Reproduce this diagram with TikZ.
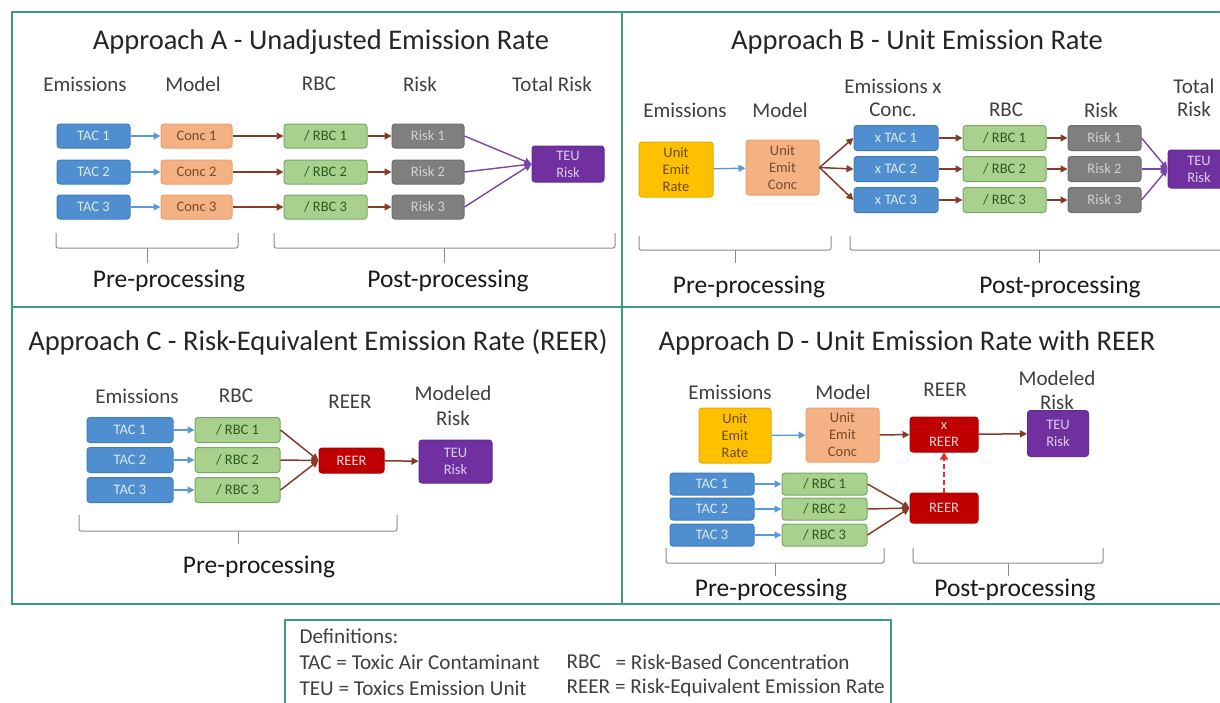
\documentclass[tikz,border=0pt]{standalone}
\usepackage{fontspec}
\setmainfont{Carlito}
\usetikzlibrary{arrows.meta}
\definecolor{frameteal}{HTML}{3E9A88}
\definecolor{titlegray}{HTML}{262626}
\definecolor{labgray}{HTML}{1A1A1A}
\definecolor{tacfill}{HTML}{4F8FD0}
\definecolor{tacdraw}{HTML}{3E7CBF}
\definecolor{tactext}{HTML}{DCE8F5}
\definecolor{concfill}{HTML}{F4B183}
\definecolor{concdraw}{HTML}{E9A06E}
\definecolor{conctext}{HTML}{7A4A2A}
\definecolor{rbcfill}{HTML}{A9D18E}
\definecolor{rbcdraw}{HTML}{78A860}
\definecolor{rbctext}{HTML}{2E5A1C}
\definecolor{riskfill}{HTML}{7F7F7F}
\definecolor{riskdraw}{HTML}{6E6E6E}
\definecolor{risktext}{HTML}{D0D0D0}
\definecolor{teufill}{HTML}{7030A0}
\definecolor{teudraw}{HTML}{642A92}
\definecolor{teutext}{HTML}{DCCBEE}
\definecolor{uerfill}{HTML}{FFC000}
\definecolor{uerdraw}{HTML}{E6AC00}
\definecolor{uertext}{HTML}{6B4A00}
\definecolor{reerfill}{HTML}{C00000}
\definecolor{reerdraw}{HTML}{A80000}
\definecolor{reertext}{HTML}{F6D6D6}
\definecolor{arrblue}{HTML}{5B9BD5}
\definecolor{arrbrown}{HTML}{843C29}
\definecolor{arrpurple}{HTML}{7A44A8}
\definecolor{headgray}{HTML}{404040}
\definecolor{bracegray}{HTML}{8C8C8C}
\definecolor{dashred}{HTML}{E03030}
\newcommand\myTitle{\fontsize{28.5}{33}\selectfont}
\newcommand\myHead{\fontsize{21}{25}\selectfont}
\newcommand\myBox{\fontsize{14.5}{17}\selectfont}
\newcommand\myLab{\fontsize{25.5}{30}\selectfont}
\newcommand\myDef{\fontsize{21.2}{25}\selectfont}
\tikzset{
  ttl/.style={font=\myTitle, text=titlegray},
  hd/.style={font=\myHead, text=headgray, align=center},
  lab/.style={font=\myLab, text=labgray},
  bx/.style={rounded corners=3pt, line width=1pt, inner sep=0pt, align=center, font=\myBox},
  tac/.style={bx, fill=tacfill, draw=tacdraw, text=tactext},
  conc/.style={bx, fill=concfill, draw=concdraw, text=conctext},
  rbc/.style={bx, fill=rbcfill, draw=rbcdraw, text=rbctext},
  risk/.style={bx, fill=riskfill, draw=riskdraw, text=risktext},
  teu/.style={bx, fill=teufill, draw=teudraw, text=teutext},
  uer/.style={bx, fill=uerfill, draw=uerdraw, text=uertext},
  reer/.style={bx, fill=reerfill, draw=reerdraw, text=reertext},
  ab/.style={draw=arrblue, line width=1.4pt, -{Triangle[length=7pt,width=7pt]}},
  abr/.style={draw=arrbrown, line width=1.5pt, -{Triangle[length=7pt,width=7pt]}},
  apu/.style={draw=arrpurple, line width=1.4pt, -{Triangle[length=7pt,width=7pt]}},
  adash/.style={draw=dashred, line width=1.6pt, dash pattern=on 5pt off 3pt, -{Triangle[length=7pt,width=8pt]}},
  brc/.style={draw=bracegray, line width=1pt, rounded corners=2pt},
  frm/.style={draw=frameteal, line width=2pt}
}
\begin{document}
\begin{tikzpicture}[x=1pt,y=-1pt]
\useasboundingbox (0,0) rectangle (1220,702);
\fill[white] (0,0) rectangle (1220,702);
% frames
\draw[frm] (12,12) rectangle (1228,604);
\draw[frm] (622,12) -- (622,604);
\draw[frm] (12,307) -- (1228,307);
\draw[frm] (285,620) rectangle (891,714);

% ===== Panel A =====
\node[ttl] (tA) at (321,42) {Approach A - Unadjusted Emission Rate};
\node[hd] (hA1) at (85,84) {Emissions};
\node[hd] (hA2) at (193,84) {Model};
\node[hd] (hA3) at (319,84) {RBC};
\node[hd] (hA4) at (420,84) {Risk};
\node[hd] (hA5) at (552,84) {Total Risk};
\foreach \i/\y in {1/136,2/172,3/207}{
  \node[tac, minimum width=73pt, minimum height=24pt] (tacA\i) at (93.5,\y) {TAC \i};
  \node[conc, minimum width=71pt, minimum height=24pt] (concA\i) at (196.5,\y) {Conc \i};
  \node[rbc, minimum width=83pt, minimum height=24pt] (rbcA\i) at (325.5,\y) {/ RBC \i};
  \node[risk, minimum width=72pt, minimum height=24pt] (riskA\i) at (428,\y) {Risk \i};
}
\node[teu, minimum width=72pt, minimum height=36pt] (teuA) at (568,164) {TEU\\Risk};
\foreach \i in {1,2,3}{
  \draw[ab] (tacA\i) -- (concA\i);
  \draw[abr] (concA\i) -- (rbcA\i);
  \draw[abr] (rbcA\i) -- (riskA\i);
  \draw[apu] (riskA\i.east) -- (teuA.west);
}
\draw[brc] (56,233) -- (56,248) -- (238,248) -- (238,233);
\draw[brc] (147,248) -- (147,263);
\draw[brc] (274,233) -- (274,248) -- (615,248) -- (615,233);
\draw[brc] (444,248) -- (444,263);
\node[lab] (pA1) at (169,281) {Pre-processing};
\node[lab] (pA2) at (448,281) {Post-processing};

% ===== Panel B =====
\node[ttl] (tB) at (917,42) {Approach B - Unit Emission Rate};
\node[hd] (hB1) at (685,110) {Emissions};
\node[hd] (hB2) at (780,110) {Model};
\node[hd, font=\fontsize{21}{23}\selectfont] (hB3) at (893,98) {Emissions x\\Conc.};
\node[hd] (hB4) at (1006,110) {RBC};
\node[hd] (hB5) at (1101,110) {Risk};
\node[hd, font=\fontsize{21}{23}\selectfont] (hB6) at (1194,98) {Total\\Risk};
\node[uer, minimum width=74pt, minimum height=55pt] (uerB) at (676,169.5) {Unit\\Emit\\Rate};
\node[conc, minimum width=73pt, minimum height=55pt] (uecB) at (782.5,167.5) {Unit\\Emit\\Conc};
\foreach \i/\y in {1/138,2/169,3/200}{
  \node[tac, minimum width=84pt, minimum height=25pt] (xtacB\i) at (896,\y) {x TAC \i};
  \node[rbc, minimum width=83pt, minimum height=25pt] (rbcB\i) at (1004.5,\y) {/ RBC \i};
  \node[risk, minimum width=73pt, minimum height=25pt] (riskB\i) at (1104.5,\y) {Risk \i};
}
\node[teu, minimum width=62pt, minimum height=38pt] (teuB) at (1199,169) {TEU\\Risk};
\draw[ab] (uerB) -- (uecB);
\foreach \i in {1,2,3}{
  \draw[abr] (uecB.east) -- (xtacB\i.west);
  \draw[abr] (xtacB\i) -- (rbcB\i);
  \draw[abr] (rbcB\i) -- (riskB\i);
  \draw[apu] (riskB\i.east) -- (teuB.west);
}
\draw[brc] (639,236) -- (639,250) -- (831,250) -- (831,236);
\draw[brc] (735,250) -- (735,263);
\draw[brc] (850,236) -- (850,250) -- (1232,250);
\draw[brc] (1039,250) -- (1039,263);
\node[lab] (pB1) at (749,287) {Pre-processing};
\node[lab] (pB2) at (1060,287) {Post-processing};

% ===== Panel C =====
\node[ttl] (tC) at (318,342) {Approach C - Risk-Equivalent Emission Rate (REER)};
\node[hd] (hC1) at (137,396) {Emissions};
\node[hd] (hC2) at (236,396) {RBC};
\node[hd] (hC3) at (350,402) {REER};
\node[hd, font=\fontsize{21}{25}\selectfont] (hC4) at (453,406) {Modeled\\Risk};
\foreach \i/\y in {1/430,2/460,3/490}{
  \node[tac, minimum width=86pt, minimum height=25pt] (tacC\i) at (130,\y) {TAC \i};
  \node[rbc, minimum width=85pt, minimum height=25pt] (rbcC\i) at (237.5,\y) {/ RBC \i};
}
\node[reer, minimum width=65pt, minimum height=25pt] (reerC) at (351.5,460.5) {REER};
\node[teu, minimum width=73pt, minimum height=43pt] (teuC) at (455.5,461.5) {TEU\\Risk};
\foreach \i in {1,2,3}{
  \draw[ab] (tacC\i) -- (rbcC\i);
  \draw[abr] (rbcC\i.east) -- (reerC.west);
}
\draw[abr] (reerC) -- (teuC);
\draw[brc] (79,515) -- (79,531) -- (397,531) -- (397,515);
\draw[brc] (238,531) -- (238,544);
\node[lab] (pC1) at (259,567) {Pre-processing};

% ===== Panel D =====
\node[ttl] (tD) at (907,343) {Approach D - Unit Emission Rate with REER};
\node[hd] (hD1) at (730,392) {Emissions};
\node[hd] (hD2) at (843,392) {Model};
\node[hd] (hD3) at (945,390) {REER};
\node[hd, font=\fontsize{21}{24}\selectfont] (hD4) at (1057,390) {Modeled\\Risk};
\node[uer, minimum width=72pt, minimum height=55pt] (uerD) at (735,435.5) {Unit\\Emit\\Rate};
\node[conc, minimum width=73pt, minimum height=54pt] (uecD) at (842.5,435) {Unit\\Emit\\Conc};
\node[reer, minimum width=68pt, minimum height=35pt] (xreerD) at (944,434.5) {x\\REER};
\node[teu, minimum width=61pt, minimum height=46pt] (teuD) at (1058,433.5) {TEU\\Risk};
\foreach \i/\y in {1/484,2/509,3/535}{
  \node[tac, minimum width=84pt, minimum height=22pt] (tacD\i) at (712,\y) {TAC \i};
  \node[rbc, minimum width=85pt, minimum height=22pt] (rbcD\i) at (824.5,\y) {/ RBC \i};
}
\node[reer, minimum width=68pt, minimum height=30pt] (reerD) at (944,508) {REER};
\draw[ab] (uerD) -- (uecD);
\draw[abr] (uecD) -- (xreerD);
\draw[abr] (xreerD) -- (teuD);
\foreach \i in {1,2,3}{
  \draw[ab] (tacD\i) -- (rbcD\i);
  \draw[abr] (rbcD\i.east) -- (reerD.west);
}
\draw[adash] (reerD) -- (xreerD);
\draw[brc] (666,548) -- (666,563) -- (884,563) -- (884,548);
\draw[brc] (775,563) -- (775,576);
\draw[brc] (913,548) -- (913,563) -- (1103,563) -- (1103,548);
\draw[brc] (1008,563) -- (1008,576);
\node[lab] (pD1) at (771,590) {Pre-processing};
\node[lab] (pD2) at (1015,590) {Post-processing};

% ===== Definitions =====
\node[font=\myDef, anchor=west, text=headgray] (dHead) at (296,636) {Definitions:};
\node[font=\myDef, anchor=west, text=headgray] (dTAC) at (296,662) {TAC = Toxic Air Contaminant};
\node[font=\myDef, anchor=west, text=headgray] (dTEU) at (296,688) {TEU = Toxics Emission Unit};
\node[font=\myDef, anchor=west, text=headgray] (dRBC) at (563,662) {RBC};
\node[font=\myDef, anchor=west, text=headgray] (dRBCd) at (612,662) {= Risk-Based Concentration};
\node[font=\myDef, anchor=west, text=headgray] (dREER) at (563,688) {REER = Risk-Equivalent Emission Rate};
\end{tikzpicture}
\end{document}
